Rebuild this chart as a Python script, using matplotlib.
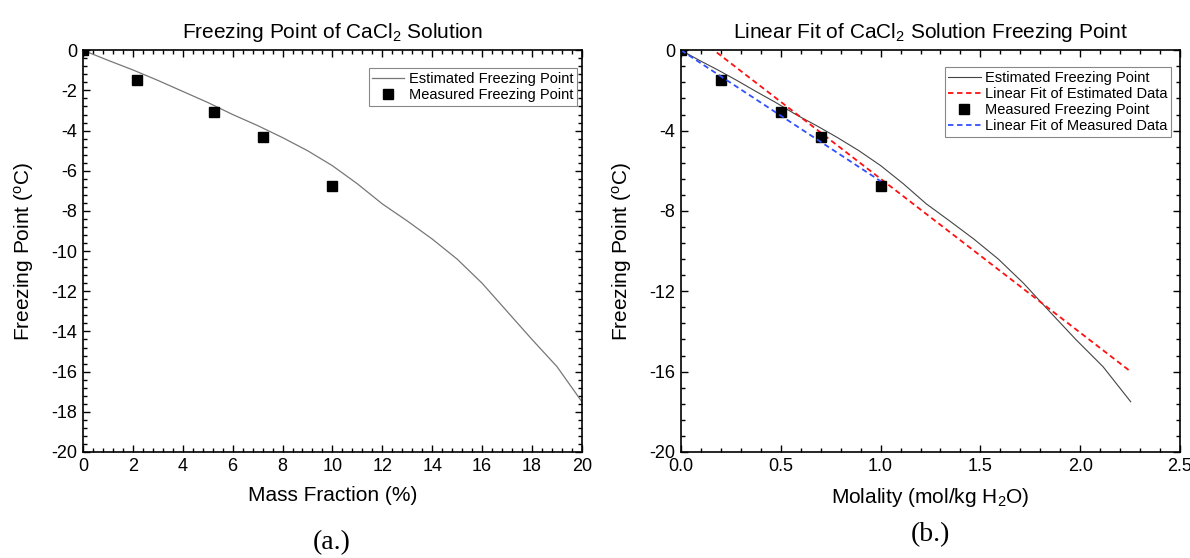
import matplotlib
matplotlib.use('Agg')
import matplotlib.pyplot as plt
from matplotlib.ticker import MultipleLocator
import numpy as np

plt.rcParams['font.family'] = ['Liberation Sans', 'DejaVu Sans']
plt.rcParams['mathtext.fontset'] = 'custom'
plt.rcParams['mathtext.rm'] = 'Liberation Sans'
plt.rcParams['axes.unicode_minus'] = False

# estimated freezing point curve
mass_frac = [0, 1, 2, 3, 4, 5, 6, 7, 8, 9, 10,
             11, 12, 13, 14, 15, 16, 17, 18, 19, 20]
molality = [0.0, 0.091, 0.184, 0.279, 0.375, 0.474, 0.575, 0.678, 0.784, 0.891, 1.001,
            1.114, 1.229, 1.346, 1.467, 1.590, 1.716, 1.846, 1.978, 2.114, 2.253]
est_fp = [0.0, -0.5, -0.98, -1.5, -2.05, -2.6, -3.2, -3.75, -4.35, -5.0, -5.75,
          -6.65, -7.65, -8.5, -9.4, -10.4, -11.6, -13.0, -14.4, -15.75, -17.5]

# measured points
meas_mass = [0, 2.17, 5.26, 7.21, 9.99]
meas_mol = [0, 0.2, 0.5, 0.7, 1.0]
meas_fp = [0, -1.5, -3.08, -4.3, -6.75]

# linear fits (slope, intercept)
fit_est = (-7.66, 1.26)
fit_meas = (-6.52, 0.0)


def style_axes(ax):
    for s in ax.spines.values():
        s.set_linewidth(1.2)
    ax.tick_params(which='both', direction='in', top=True, right=True,
                   labelsize=13, pad=4)
    ax.tick_params(which='major', length=5, width=1)
    ax.tick_params(which='minor', length=3, width=1)


def add_legend(ax, anchor):
    leg = ax.legend(loc='upper right', bbox_to_anchor=anchor, fontsize=10.5,
                    frameon=True, fancybox=False, framealpha=1, edgecolor='#888888',
                    handlelength=2.2, handletextpad=0.3, borderpad=0.25,
                    labelspacing=0.15, borderaxespad=0)
    leg.get_frame().set_linewidth(0.8)
    return leg


fig = plt.figure(figsize=(11.9, 5.58), dpi=100)
ax1 = fig.add_axes([0.0697, 0.19, 0.4193, 0.72])
ax2 = fig.add_axes([0.5723, 0.19, 0.4193, 0.72])

# (a.) mass fraction
ax1.plot(mass_frac, est_fp, color='#777777', lw=0.9, label='Estimated Freezing Point')
ax1.plot(meas_mass, meas_fp, 's', color='black', ms=7, label='Measured Freezing Point')
ax1.set_xlim(0, 20)
ax1.set_ylim(-20, 0)
ax1.xaxis.set_major_locator(MultipleLocator(2))
ax1.xaxis.set_minor_locator(MultipleLocator(0.4))
ax1.yaxis.set_major_locator(MultipleLocator(2))
ax1.yaxis.set_minor_locator(MultipleLocator(0.4))
style_axes(ax1)
ax1.set_title(r'Freezing Point of CaCl$\mathregular{_2}$ Solution', fontsize=15, pad=9)
ax1.set_xlabel('Mass Fraction (%)', fontsize=15, labelpad=8)
ax1.set_ylabel(r'Freezing Point ($\mathregular{^o}$C)', fontsize=15, labelpad=11)
add_legend(ax1, (0.99, 0.955))

# (b.) molality
x_fit = np.array([0, molality[-1]])
x_fit2 = np.array([0, meas_mol[-1]])
ax2.plot(molality, est_fp, color='#444444', lw=0.8, label='Estimated Freezing Point')
ax2.plot(x_fit, fit_est[0] * x_fit + fit_est[1], '--', color='#ff1010', lw=1.3,
         dashes=(3, 2), label='Linear Fit of Estimated Data')
ax2.plot(meas_mol, meas_fp, 's', color='black', ms=7, label='Measured Freezing Point')
ax2.plot(x_fit2, fit_meas[0] * x_fit2 + fit_meas[1], '--', color='#3050ff', lw=1.3,
         dashes=(3, 2), label='Linear Fit of Measured Data')
ax2.set_xlim(0, 2.5)
ax2.set_ylim(-20, 0)
ax2.xaxis.set_major_locator(MultipleLocator(0.5))
ax2.xaxis.set_minor_locator(MultipleLocator(0.1))
ax2.yaxis.set_major_locator(MultipleLocator(4))
ax2.yaxis.set_minor_locator(MultipleLocator(0.8))
ax2.xaxis.set_major_formatter(plt.FormatStrFormatter('%.1f'))
style_axes(ax2)
ax2.set_title(r'Linear Fit of CaCl$\mathregular{_2}$ Solution Freezing Point', fontsize=15, pad=9)
ax2.set_xlabel(r'Molality (mol/kg H$\mathregular{_2}$O)', fontsize=15, labelpad=8)
ax2.set_ylabel(r'Freezing Point ($\mathregular{^o}$C)', fontsize=15, labelpad=11)
add_legend(ax2, (0.982, 0.958))

fig.text(332 / 1190, 1 - 543 / 558, '(a.)', family='Liberation Serif', fontsize=20,
         ha='center', va='center')
fig.text(930 / 1190, 1 - 535 / 558, '(b.)', family='Liberation Serif', fontsize=20,
         ha='center', va='center')

fig.savefig('out.png', dpi=100)
